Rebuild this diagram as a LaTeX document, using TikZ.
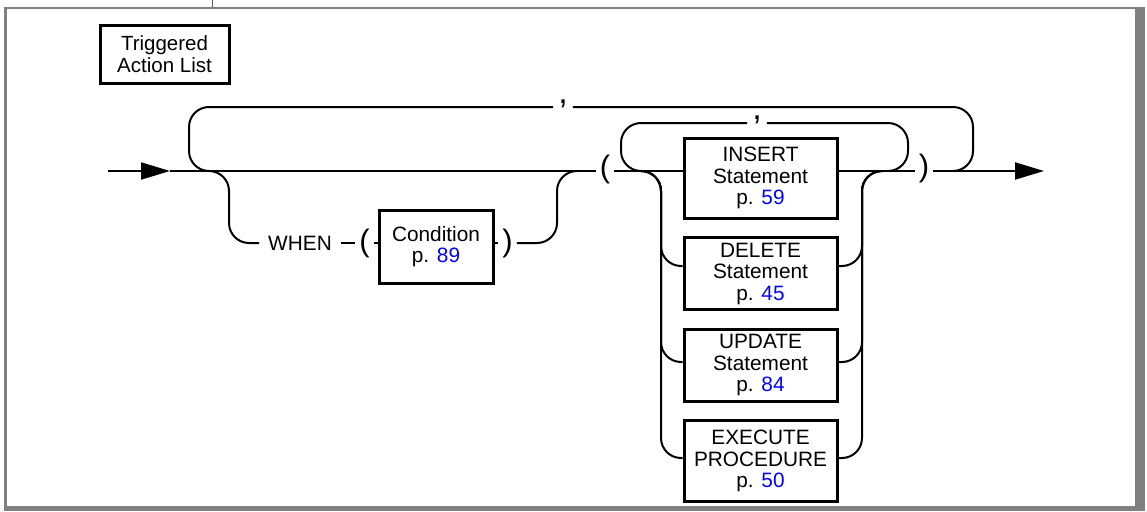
\documentclass[tikz,border=0pt]{standalone}
\usepackage{fontspec}
\setmainfont{Liberation Sans}
\usetikzlibrary{arrows.meta,positioning}
\newcommand{\refpg}[1]{p. \textcolor{blue}{#1}}
\tikzset{
  rail/.style={line width=2pt},
  endarr/.style={line width=2pt,-{Triangle[length=29pt,width=17pt]}},
  term/.style={draw,line width=3pt,inner sep=0pt,align=center,minimum width=153pt,
               font=\fontsize{20.8}{21.5}\selectfont},
  kw/.style={inner xsep=9pt,inner ysep=0pt,font=\fontsize{20.8}{21.5}\selectfont},
  paren/.style={inner xsep=4pt,inner ysep=0pt,font=\fontsize{31}{31}\selectfont},
  comma/.style={anchor=base,inner xsep=5pt,inner ysep=0pt,font=\fontsize{34}{34}\selectfont},
  frame/.style={fill=gray},
}
\begin{document}
\begin{tikzpicture}[x=1pt,y=-1pt,node distance=16.5pt]
  \useasboundingbox (0,0) rectangle (1147,511);
  % page frame
  \fill[frame] (3.5,7) rectangle (1145,9.5);
  \fill[frame] (3.5,7) rectangle (6.5,511);
  \fill[frame] (1134.5,7) rectangle (1145,511);
  \fill[frame] (3.5,505.5) rectangle (1145,511);
  \draw[gray!70!black,line width=1pt] (212,0) -- (212,7);

  \node[term,line width=3pt,minimum width=129pt,minimum height=57pt,
        font=\fontsize{20.5}{22}\selectfont] (title) at (164.5,54.5) {Triggered\\Action List};

  % junctions on the main line
  \coordinate (start) at (108,171);
  \coordinate (a1)    at (170,171);
  \coordinate (oL)    at (209,171);
  \coordinate (jM)    at (577,171);
  \coordinate (iL)    at (641,171);
  \coordinate (iR2)   at (882,171);
  \coordinate (iR)    at (888,171);
  \coordinate (oR)    at (953,171);
  \coordinate (a2)    at (1044,171);
  % loop corners
  \coordinate (olc) at (189,107);
  \coordinate (orc) at (973,107);
  \coordinate (ilc) at (621,123);
  \coordinate (irc) at (908,123);
  \coordinate (wlc) at (229,243);
  \coordinate (wrt) at (557,171);

  % WHEN branch
  \node[kw]    (when) at (300,243)   {WHEN};
  \node[paren] (lp2)  at (364.5,243) {(};
  \node[term,minimum width=114pt,minimum height=73pt] (cond) at (436,246.5) {Condition\\\refpg{89}};
  \node[paren] (rp2)  at (507.5,243) {)};

  % main parentheses and commas
  \node[paren] (lpar) at (605,169) {(};
  \node[paren] (rpar) at (924,168) {)};
  \node[comma] (com1) at (563,103.5) {,};
  \node[comma] (com2) at (757,119.5) {,};

  % statement boxes
  \node[term,minimum height=80pt] (ins) at (760.5,178) {INSERT\\Statement\\\refpg{59}};
  \node[term,minimum height=72pt,below=of ins] (del) {DELETE\\Statement\\\refpg{45}};
  \node[term,minimum height=72pt,below=of del] (upd) {UPDATE\\Statement\\\refpg{84}};
  \node[term,minimum height=81pt,below=of upd] (exe) {EXECUTE\\PROCEDURE\\\refpg{50}};

  \coordinate (delL) at (661,266);
  \coordinate (updL) at (661,362);
  \coordinate (exeL) at (661,458);
  \coordinate (delR) at (862,266);
  \coordinate (updR) at (862,362);
  \coordinate (exeR) at (862,458);

  % main line
  \draw[endarr] (start) -- (a1);
  \draw[rail] (a1) -- (a1 -| lpar.west);
  \draw[rail] (lpar.east |- a1) -- (a1 -| ins.west);
  \draw[rail] (ins.east |- a1) -- (a1 -| rpar.west);
  \draw[endarr] (rpar.east |- a2) -- (a2);

  % outer loop
  \draw[rail,rounded corners=20pt] (oL) -| (olc) -- (olc -| com1.west);
  \draw[rail,rounded corners=20pt] (com1.east |- orc) -- (orc) |- (oR);

  % WHEN branch
  \draw[rail,rounded corners=20pt] (oL) -| (wlc) -- (when);
  \draw[rail] (when) -- (lp2);
  \draw[rail] (lp2) -- (lp2 -| cond.west);
  \draw[rail] (cond.east |- rp2) -- (rp2);
  \draw[rail,rounded corners=20pt] (rp2) -| (wrt) -- (jM);

  % inner loop
  \draw[rail,rounded corners=20pt] (iL) -| (ilc) -- (ilc -| com2.west);
  \draw[rail,rounded corners=20pt] (com2.east |- irc) -- (irc) |- (iR);

  % alternatives
  \draw[rail,rounded corners=20pt] (iL) -| (delL) -- (delL -| del.west);
  \draw[rail,rounded corners=20pt] (iL) -| (updL) -- (updL -| upd.west);
  \draw[rail,rounded corners=20pt] (iL) -| (exeL) -- (exeL -| exe.west);
  \draw[rail,rounded corners=20pt] (delR -| del.east) -- (delR) |- (iR2);
  \draw[rail,rounded corners=20pt] (updR -| upd.east) -- (updR) |- (iR2);
  \draw[rail,rounded corners=20pt] (exeR -| exe.east) -- (exeR) |- (iR2);
\end{tikzpicture}
\end{document}
